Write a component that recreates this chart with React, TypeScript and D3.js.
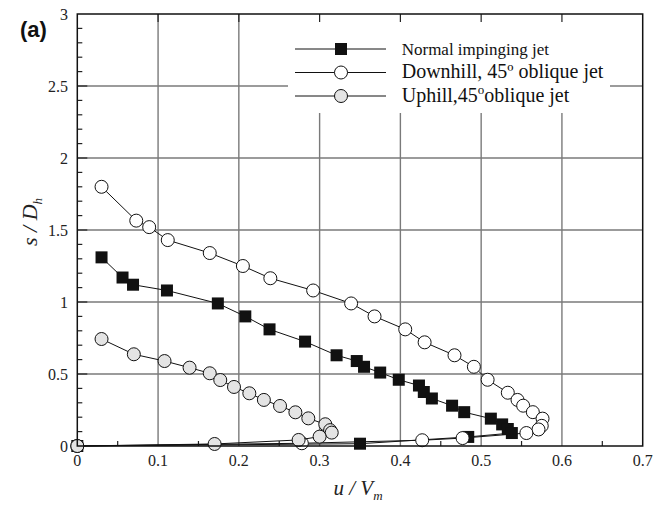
import { useEffect, useRef } from 'react'
import * as d3 from 'd3'

const W = 666
const H = 505

// Normal impinging jet (filled squares)
const normalU = [0.03, 0.056, 0.069, 0.111, 0.174, 0.208, 0.238, 0.282, 0.321, 0.346, 0.355, 0.375, 0.398, 0.423, 0.429, 0.439, 0.464, 0.479, 0.512, 0.526, 0.533, 0.538, 0.484, 0.35, 0]
const normalS = [1.31, 1.17, 1.12, 1.08, 0.99, 0.9, 0.81, 0.725, 0.63, 0.59, 0.55, 0.51, 0.46, 0.42, 0.375, 0.33, 0.28, 0.235, 0.19, 0.15, 0.118, 0.09, 0.063, 0.016, 0]

// Downhill, 45º oblique jet (open circles)
const downU = [0.03, 0.073, 0.089, 0.112, 0.164, 0.205, 0.239, 0.292, 0.339, 0.368, 0.406, 0.43, 0.467, 0.491, 0.508, 0.533, 0.545, 0.552, 0.564, 0.576, 0.575, 0.571, 0.556, 0.477, 0.427, 0.278, 0]
const downS = [1.8, 1.565, 1.52, 1.43, 1.34, 1.25, 1.165, 1.08, 0.99, 0.9, 0.81, 0.72, 0.63, 0.55, 0.46, 0.37, 0.32, 0.28, 0.235, 0.19, 0.14, 0.115, 0.09, 0.055, 0.04, 0.019, 0]

// Uphill, 45º oblique jet (grey circles)
const upU = [0.03, 0.07, 0.108, 0.139, 0.164, 0.177, 0.194, 0.213, 0.231, 0.251, 0.27, 0.286, 0.307, 0.313, 0.315, 0.3, 0.274, 0.17, 0]
const upS = [0.743, 0.637, 0.59, 0.544, 0.505, 0.458, 0.41, 0.366, 0.32, 0.278, 0.234, 0.192, 0.151, 0.11, 0.093, 0.065, 0.042, 0.014, 0]

const xTicks = [0, 0.1, 0.2, 0.3, 0.4, 0.5, 0.6, 0.7]
const xTickLabels = ['0', '0.1', '0.2', '0.3', '0.4', '0.5', '0.6', '0.7']
const xMinor = [0.05, 0.15, 0.25, 0.35, 0.45, 0.55, 0.65]
const yTicks = [0, 0.5, 1, 1.5, 2, 2.5, 3]
const yTickLabels = ['0', '0.5', '1', '1.5', '2', '2.5', '3']
const yMinor = d3.range(0, 30).map(i => i / 10).filter(v => Math.round(v * 10) % 5 !== 0)

const seriesNames = ['Normal impinging jet', 'Downhill, 45º oblique jet', 'Uphill,45']

const SERIF = '"Liberation Serif", "Times New Roman", serif'
const GREY = '#e4e4e4'

function App() {
  const ref = useRef<SVGSVGElement>(null)

  useEffect(() => {
    if (!ref.current) return
    const svg = d3.select(ref.current)
    svg.selectAll('*').remove()

    const x = d3.scaleLinear().domain([0, 0.7]).range([77.3, 642.7])
    const y = d3.scaleLinear().domain([0, 3]).range([446, 14])
    const [x0, x1] = x.range()
    const [y0, y1] = y.range()

    svg.append('rect').attr('width', W).attr('height', H).attr('fill', '#fff')

    // grid
    const grid = svg.append('g').attr('stroke', '#7a7a7a').attr('stroke-width', 1.4)
    xTicks.slice(1, -1).forEach(v => {
      grid.append('line').attr('x1', x(v)).attr('x2', x(v)).attr('y1', y0).attr('y2', y1)
    })
    yTicks.slice(1, -1).forEach(v => {
      grid.append('line').attr('x1', x0).attr('x2', x1).attr('y1', y(v)).attr('y2', y(v))
    })

    // legend background hides the grid behind it
    svg.append('rect')
      .attr('x', 288).attr('y', y1).attr('width', 322).attr('height', 99)
      .attr('fill', '#fff')

    // short major ticks on top edge
    const ticks = svg.append('g').attr('stroke', '#222').attr('stroke-width', 1.2)
    xTicks.slice(1, -1).forEach(v => {
      ticks.append('line').attr('x1', x(v)).attr('x2', x(v)).attr('y1', y1).attr('y2', y1 + 8)
    })
    xMinor.forEach(v => {
      ticks.append('line').attr('x1', x(v)).attr('x2', x(v)).attr('y1', y0).attr('y2', y0 - 5)
    })
    yMinor.forEach(v => {
      ticks.append('line').attr('x1', x0).attr('x2', x0 + 5).attr('y1', y(v)).attr('y2', y(v))
    })
    yTicks.slice(1, -1).forEach(v => {
      ticks.append('line').attr('x1', x0).attr('x2', x0 + 10).attr('y1', y(v)).attr('y2', y(v))
    })

    const line = d3.line<[number, number]>().x(d => x(d[0])).y(d => y(d[1]))

    // series
    const normal = d3.zip(normalU, normalS) as [number, number][]
    const down = d3.zip(downU, downS) as [number, number][]
    const up = d3.zip(upU, upS) as [number, number][]

    const drawSquares = (g: any, pts: [number, number][], s: number) => {
      g.selectAll('rect.m').data(pts).enter().append('rect')
        .attr('class', 'm')
        .attr('x', (d: [number, number]) => x(d[0]) - s / 2)
        .attr('y', (d: [number, number]) => y(d[1]) - s / 2)
        .attr('width', s).attr('height', s)
        .attr('fill', '#111')
    }
    const drawCircles = (g: any, pts: [number, number][], fill: string) => {
      g.selectAll('circle.m').data(pts).enter().append('circle')
        .attr('class', 'm')
        .attr('cx', (d: [number, number]) => x(d[0]))
        .attr('cy', (d: [number, number]) => y(d[1]))
        .attr('r', 6.5)
        .attr('fill', fill)
        .attr('stroke', '#111').attr('stroke-width', 1)
    }

    const gN = svg.append('g')
    gN.append('path').attr('d', line(normal)).attr('fill', 'none').attr('stroke', '#111').attr('stroke-width', 1)
    drawSquares(gN, normal, 12)

    const gD = svg.append('g')
    gD.append('path').attr('d', line(down)).attr('fill', 'none').attr('stroke', '#111').attr('stroke-width', 1)
    drawCircles(gD, down, '#fff')

    const gU = svg.append('g')
    gU.append('path').attr('d', line(up)).attr('fill', 'none').attr('stroke', '#111').attr('stroke-width', 1)
    drawCircles(gU, up, GREY)

    // frame
    svg.append('rect')
      .attr('x', x0).attr('y', y1).attr('width', x1 - x0).attr('height', y0 - y1)
      .attr('fill', 'none').attr('stroke', '#111').attr('stroke-width', 1.5)

    // tick labels
    svg.append('g').selectAll('text').data(xTicks).enter().append('text')
      .attr('x', d => x(d)).attr('y', 466)
      .attr('text-anchor', 'middle')
      .attr('font-family', SERIF).attr('font-size', 16).attr('fill', '#222')
      .text((d, i) => xTickLabels[i])
    svg.append('g').selectAll('text').data(yTicks).enter().append('text')
      .attr('x', 68).attr('y', d => y(d)).attr('dy', '0.35em')
      .attr('text-anchor', 'end')
      .attr('font-family', SERIF).attr('font-size', 16).attr('fill', '#222')
      .text((d, i) => yTickLabels[i])

    // axis titles
    const xt = svg.append('text')
      .attr('x', 358).attr('y', 495)
      .attr('text-anchor', 'middle')
      .attr('font-family', SERIF).attr('font-size', 21).attr('font-style', 'italic').attr('fill', '#222')
    xt.append('tspan').text('u / V')
    xt.append('tspan').attr('font-size', 13).attr('dy', 5).text('m')

    const yt = svg.append('text')
      .attr('transform', 'translate(37,222) rotate(-90)')
      .attr('text-anchor', 'middle')
      .attr('font-family', SERIF).attr('font-size', 22).attr('font-style', 'italic').attr('fill', '#222')
    yt.append('tspan').text('s / D')
    yt.append('tspan').attr('font-size', 13).attr('dy', 5).text('h')

    // panel label
    svg.append('text')
      .attr('x', 20).attr('y', 37)
      .attr('font-family', '"Liberation Sans", Arial, sans-serif')
      .attr('font-weight', 'bold').attr('font-size', 22).attr('fill', '#111')
      .text('(a)')

    // legend
    const lx1 = 295, lx2 = 386, lm = 341, tx = 401.7
    const rowsY = [49, 72.5, 96]
    const baseY = [55, 78, 101.5]
    const lg = svg.append('g')
    rowsY.forEach(ry => {
      lg.append('line').attr('x1', lx1).attr('x2', lx2).attr('y1', ry).attr('y2', ry)
        .attr('stroke', '#111').attr('stroke-width', 1)
    })
    drawSquares(lg.append('g'), [[x.invert(lm), y.invert(rowsY[0])]], 12)
    drawCircles(lg.append('g'), [[x.invert(lm), y.invert(rowsY[1])]], '#fff')
    drawCircles(lg.append('g'), [[x.invert(lm), y.invert(rowsY[2])]], GREY)

    lg.append('text').attr('x', tx).attr('y', baseY[0])
      .attr('font-family', SERIF).attr('font-size', 17).attr('fill', '#111')
      .text(seriesNames[0])
    lg.append('text').attr('x', tx).attr('y', baseY[1])
      .attr('font-family', SERIF).attr('font-size', 20).attr('fill', '#111')
      .text(seriesNames[1])
    const t3 = lg.append('text').attr('x', tx).attr('y', baseY[2])
      .attr('font-family', SERIF).attr('font-size', 20).attr('fill', '#111')
    t3.append('tspan').text(seriesNames[2])
    t3.append('tspan').attr('font-size', 13).attr('dy', -8).text('o')
    t3.append('tspan').attr('dy', 8).text('oblique jet')
  }, [])

  return (
    <svg
      ref={ref}
      width={W}
      height={H}
      style={{ position: 'absolute', left: 0, top: 0, display: 'block' }}
    />
  )
}

export default App
